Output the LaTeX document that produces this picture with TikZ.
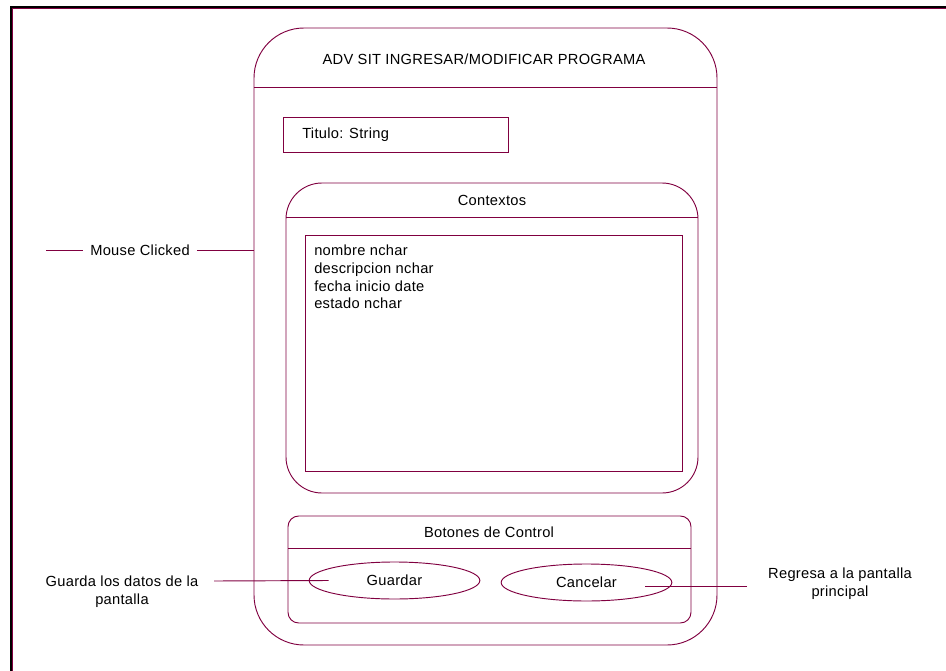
\documentclass[tikz,border=0pt]{standalone}
\usepackage{fontspec}
\setmainfont[LetterSpace=2]{Liberation Sans}
\usepackage{tikz}
\usetikzlibrary{shapes.geometric,calc}
\definecolor{vino}{RGB}{128,0,64}

\begin{document}
\begin{tikzpicture}[x=0.75pt,y=-0.75pt,
    linea/.style={draw=vino,line width=0.7pt},
    txt/.style={font=\fontsize{11}{13.4}\selectfont,inner sep=0pt},
    boton/.style={ellipse,linea,minimum width=128pt,minimum height=27.75pt,txt}]
  \useasboundingbox (0,0) rectangle (946,671);
  % marco de la hoja
  \draw[line width=1.5pt] (10.8,671) -- (10.8,6.7) -- (946,6.7);
  \draw[vino,line width=0.4pt] (12.6,671) -- (12.6,8.5) -- (946,8.5);
  % pantalla
  \coordinate (pant) at (254,28);
  \draw[linea,rounded corners=37.5pt] (pant) rectangle (717,645);
  \draw[linea] (254,87) -- (717,87);
  \node[txt] (titulo) at (484,59) {ADV SIT INGRESAR/MODIFICAR PROGRAMA};
  \draw[linea] (283,117) rectangle (508,152);
  \node[txt,anchor=west] (campo) at (302,135) {Titulo: String};
  % contextos
  \draw[linea,rounded corners=27pt] (286,183) rectangle (698,493);
  \draw[linea] (286,217) -- (698,217);
  \node[txt] (ctx) at (492,200) {Contextos};
  \draw[linea] (305,235) rectangle (682,471);
  \node[txt,anchor=north west,align=left] (lista) at (314,244.5)
    {nombre nchar\\descripcion nchar\\fecha inicio date\\estado nchar};
  % botones
  \draw[linea,rounded corners=8pt] (288,516) rectangle (691,623);
  \draw[linea] (288,548) -- (691,548);
  \node[txt] (bctl) at (489,532) {Botones de Control};
  \node[boton] (guardar) at (394.5,580.5) {Guardar};
  \node[boton] (cancelar) at (586.5,582.5) {Cancelar};
  % notas
  \node[txt,inner xsep=5.25pt] (click) at (140,250) {Mouse Clicked};
  \coordinate (c0) at (46,250);
  \draw[linea] (c0) -- (click.west);
  \draw[linea] (click.east) -- (click -| pant);
  \node[txt,align=center] (nota1) at (122,592) {Guarda los datos de la\\pantalla};
  \coordinate (g0) at (214,581);
  \draw[linea] (g0) -- ($(guardar.west)+(20,0)$);
  \node[txt,align=center] (nota2) at (840,584) {Regresa a la pantalla\\principal};
  \coordinate (r0) at (747,586);
  \draw[linea] (r0) -- ($(cancelar.east)+(-27,3.5)$);
\end{tikzpicture}
\end{document}
